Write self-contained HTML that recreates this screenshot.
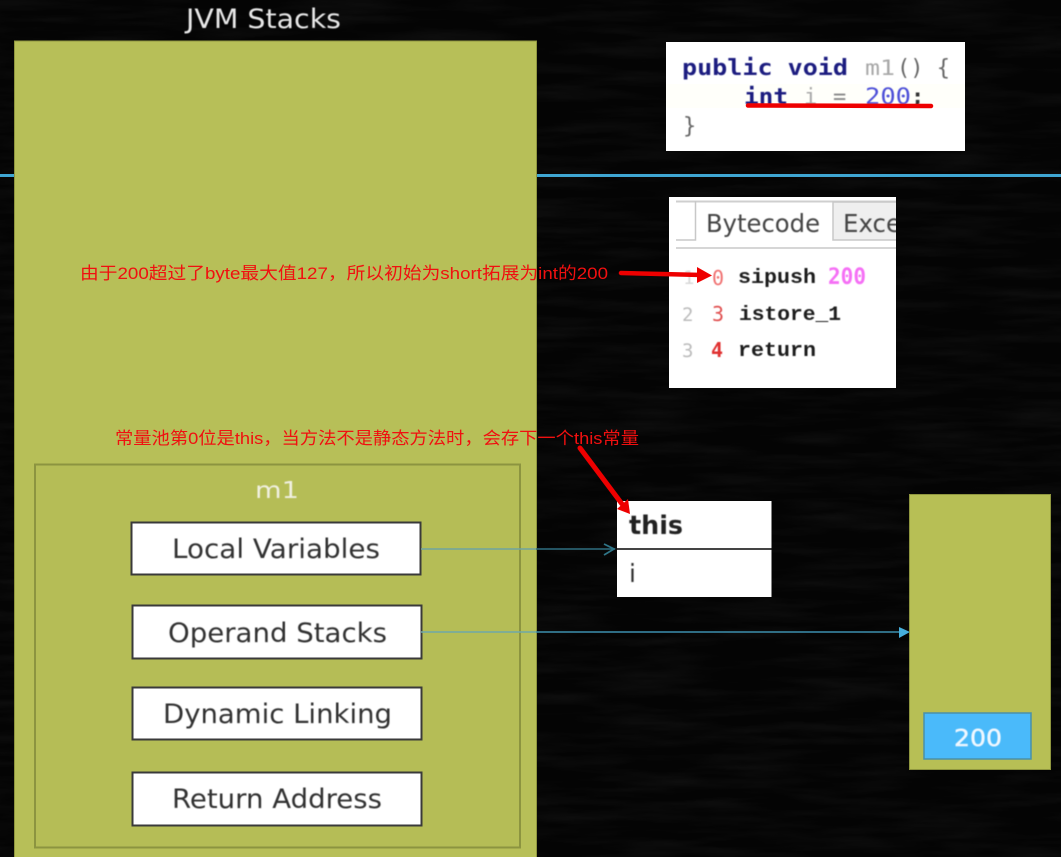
<!DOCTYPE html>
<html>
<head>
<meta charset="utf-8">
<style>
html,body{margin:0;padding:0;background:#050505;}
svg{display:block;}
text{font-family:"DejaVu Sans","Liberation Sans",sans-serif;}
.cn{font-family:"Liberation Sans","Noto Sans CJK SC",sans-serif;font-size:17px;fill:#f01010;}
.mono{font-family:"DejaVu Sans Mono","Liberation Mono",monospace;font-weight:bold;}
.box{fill:#fff;stroke:#3a3a3a;stroke-width:2;}
.lbl{font-size:27px;fill:#333;}
</style>
</head>
<body>
<svg width="1061" height="857" viewBox="0 0 1061 857" xmlns="http://www.w3.org/2000/svg">
<defs>
<filter id="soft"><feGaussianBlur stdDeviation="0.45"/></filter>
<filter id="chalk"><feTurbulence type="fractalNoise" baseFrequency="0.01 0.09" numOctaves="3" seed="4"/><feColorMatrix values="0 0 0 0 1 0 0 0 0 1 0 0 0 0 1 0.35 0 0 0 -0.13"/></filter>
<clipPath id="bc"><rect x="669" y="197" width="227" height="191"/></clipPath>
</defs>
<rect width="1061" height="857" fill="#040404"/>
<rect width="1061" height="857" filter="url(#chalk)" opacity="0.22"/>

<!-- horizontal line -->
<rect x="0" y="174" width="1061" height="3" fill="#3fa6d2"/>

<!-- JVM Stacks -->
<text x="186" y="28" font-size="27" fill="#e8e8e8" textLength="155" lengthAdjust="spacingAndGlyphs" filter="url(#soft)">JVM Stacks</text>
<rect x="14.500" y="41" width="522" height="830" fill="#b7bf58" stroke="#8f963f" stroke-width="1"/>

<!-- m1 frame -->
<rect x="35" y="464.500" width="485" height="383" fill="#b5bd56" stroke="#8c9440" stroke-width="2"/>
<text x="277" y="498" font-size="23" fill="#f0f0e0" text-anchor="middle" textLength="44" lengthAdjust="spacingAndGlyphs" filter="url(#soft)">m1</text>

<rect class="box" x="131.500" y="522.500" width="289" height="52"/>
<rect class="box" x="132.500" y="605.500" width="289" height="53"/>
<rect class="box" x="132.500" y="687.500" width="289" height="52"/>
<rect class="box" x="132.500" y="772.500" width="289" height="53"/>
<g filter="url(#soft)">
<text class="lbl" x="172" y="558" textLength="208" lengthAdjust="spacingAndGlyphs">Local Variables</text>
<text class="lbl" x="168" y="642" textLength="219" lengthAdjust="spacingAndGlyphs">Operand Stacks</text>
<text class="lbl" x="163" y="723" textLength="229" lengthAdjust="spacingAndGlyphs">Dynamic Linking</text>
<text class="lbl" x="172" y="808" textLength="210" lengthAdjust="spacingAndGlyphs">Return Address</text>
</g>

<!-- connectors -->
<path d="M421 549H536" stroke="#6ea3a0" stroke-width="1.500" fill="none"/>
<path d="M536 549H615" stroke="#2f6f80" stroke-width="1.500" fill="none"/>
<path d="M604 544L614 549L604 555" stroke="#2f7587" stroke-width="1.800" fill="none"/>
<path d="M421 632H536" stroke="#6ea8a8" stroke-width="1.500" fill="none"/>
<path d="M536 632H900" stroke="#3d8fae" stroke-width="1.500" fill="none"/>
<path d="M899 627L910 632L899 638Z" fill="#46afdc"/>

<!-- Code box -->
<rect x="666" y="42" width="299" height="109" fill="#fff"/>
<rect x="666" y="84" width="299" height="24" fill="#fffffa"/>
<g filter="url(#soft)">
<text class="mono" x="682" y="75" font-size="22.500" fill="#1a1f80" textLength="166" lengthAdjust="spacingAndGlyphs">public void</text>
<text x="865" y="75" font-size="21" fill="#a8a8a8" style="font-family:'DejaVu Sans Mono',monospace" textLength="30" lengthAdjust="spacingAndGlyphs">m1</text>
<text x="897" y="75" font-size="22" fill="#666" style="font-family:'DejaVu Sans Mono',monospace" textLength="53" lengthAdjust="spacingAndGlyphs">() {</text>
<text class="mono" x="744" y="104" font-size="22.500" fill="#1a1f80" textLength="44" lengthAdjust="spacingAndGlyphs">int</text>
<text x="804" y="104" font-size="22" fill="#a8a8a8" style="font-family:'DejaVu Sans Mono',monospace">i</text>
<text x="833" y="104" font-size="22" fill="#888" style="font-family:'DejaVu Sans Mono',monospace">=</text>
<text x="865" y="104" font-size="22" fill="#4d50d8" style="font-family:'DejaVu Sans Mono',monospace" textLength="46" lengthAdjust="spacingAndGlyphs">200</text>
<text x="911" y="104" font-size="22" fill="#333" font-weight="bold" style="font-family:'DejaVu Sans Mono',monospace">;</text>
<text x="683" y="133" font-size="22" fill="#666" style="font-family:'DejaVu Sans Mono',monospace">}</text>
</g>
<path d="M748 105.500L931 106" stroke="#ee0000" stroke-width="4.500" stroke-linecap="round"/>

<!-- Bytecode box -->
<rect x="669" y="197" width="227" height="191" fill="#fff"/>
<g clip-path="url(#bc)">
<path d="M676 201.500H896" stroke="#cfcfcf" stroke-width="2"/>
<path d="M676 240H695.500V201M676 248H896" stroke="#c8c8c8" stroke-width="1.500" fill="none"/>
<path d="M833 202H900V240H833Z" fill="#efefef" stroke="#c8c8c8" stroke-width="1.500"/>
<g filter="url(#soft)">
<text x="706" y="232" font-size="25" fill="#444" textLength="114" lengthAdjust="spacingAndGlyphs">Bytecode</text>
<text x="843" y="232" font-size="25" fill="#444" textLength="58" lengthAdjust="spacingAndGlyphs">Exce</text>
<text x="683" y="284" fill="#d8d8d8" font-size="19" style="font-family:'DejaVu Sans Mono',monospace">1</text>
<text x="682" y="321" fill="#bbb" font-size="19" style="font-family:'DejaVu Sans Mono',monospace">2</text>
<text x="682" y="357" fill="#bbb" font-size="19" style="font-family:'DejaVu Sans Mono',monospace">3</text>
<text x="712" y="285" fill="#f07070" font-size="20" style="font-family:'DejaVu Sans Mono',monospace">0</text>
<text x="712" y="321" fill="#e05050" font-size="20" style="font-family:'DejaVu Sans Mono',monospace">3</text>
<text x="711" y="357" fill="#e03030" font-size="20" style="font-family:'DejaVu Sans Mono',monospace;font-weight:bold">4</text>
<text x="738" y="283" fill="#1a1a1a" font-size="20" style="font-family:'Liberation Mono',monospace;font-weight:bold" textLength="78" lengthAdjust="spacingAndGlyphs">sipush</text>
<text x="828" y="284" fill="#f570f5" font-size="22" style="font-family:'DejaVu Sans Mono',monospace;font-weight:bold" textLength="38" lengthAdjust="spacingAndGlyphs">200</text>
<text x="739" y="320" fill="#1a1a1a" font-size="20" style="font-family:'Liberation Mono',monospace;font-weight:bold" textLength="102" lengthAdjust="spacingAndGlyphs">istore_1</text>
<text x="738" y="356" fill="#1a1a1a" font-size="20" style="font-family:'Liberation Mono',monospace;font-weight:bold" textLength="78" lengthAdjust="spacingAndGlyphs">return</text>
</g>
</g>

<!-- Locals table -->
<rect x="617" y="501" width="154.500" height="96" fill="#fff"/>
<rect x="617" y="548" width="154.500" height="2" fill="#444"/>
<g filter="url(#soft)">
<text x="629" y="534" font-size="26" font-weight="bold" fill="#222" textLength="54" lengthAdjust="spacingAndGlyphs">this</text>
<text x="629" y="582" font-size="25" fill="#333">i</text>
</g>

<!-- Operand stack -->
<rect x="909.500" y="494.500" width="141" height="275" fill="#b7bf55" stroke="#8f963f" stroke-width="1"/>
<rect x="924" y="713" width="107" height="46" fill="#4abafa" stroke="#4a90a8" stroke-width="1.500"/>
<text x="978" y="746" font-size="23" fill="#f0f8ff" stroke="#f0f8ff" stroke-width="0.500" text-anchor="middle" textLength="48" lengthAdjust="spacingAndGlyphs" filter="url(#soft)">200</text>

<!-- annotations -->
<text class="cn" x="80" y="279" textLength="528" lengthAdjust="spacingAndGlyphs">由于200超过了byte最大值127，所以初始为short拓展为int的200</text>
<text class="cn" x="115" y="444" textLength="524" lengthAdjust="spacingAndGlyphs">常量池第0位是this，当方法不是静态方法时，会存下一个this常量</text>

<!-- red arrows -->
<path d="M621 273L702 275" stroke="#ee0000" stroke-width="4.500" stroke-linecap="round"/>
<path d="M697 267L712 275.500L697 283Z" fill="#ee0000"/>
<path d="M580 448L622 504" stroke="#ee0000" stroke-width="5" stroke-linecap="round"/>
<path d="M628 499L630 514L617 509Z" fill="#ee0000"/>
</svg>
</body>
</html>
